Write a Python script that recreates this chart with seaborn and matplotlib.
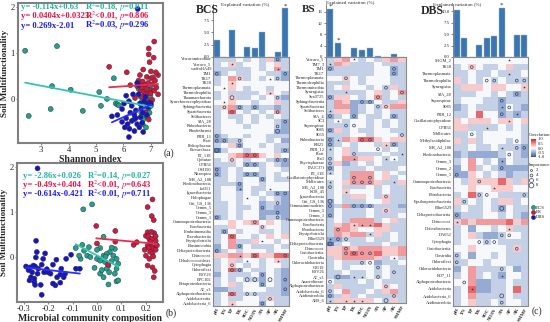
import numpy as np
import pandas as pd
import matplotlib
matplotlib.use('Agg')
import matplotlib.pyplot as plt
import seaborn as sns
from matplotlib.colors import LinearSegmentedColormap
from matplotlib.lines import Line2D

# ---------------- scatter data (panel a: Shannon index, panel b: community composition)
shannon_bcs = [2.42, 2.55, 3.58, 3.40, 3.35, 4.08, 4.52, 5.12, 5.18, 5.40, 5.65, 5.72, 5.78, 5.83,
               6.55, 6.62, 6.68, 6.72, 6.75, 6.80, 6.85, 6.90, 6.92, 6.95, 6.98, 7.00, 6.65, 6.78,
               6.88, 6.70, 6.82, 6.60, 6.90, 6.75, 6.95, 7.02, 6.85, 6.72]
mf_a_bcs = [1.05, -0.37, 1.15, 0.28, -0.22, 0.20, -0.26, 0.15, -0.15, 0.00, 0.45, -0.10, -0.12, -0.14,
            0.22, 0.05, -0.05, 0.18, -0.10, 0.12, 0.00, 0.15, -0.20, -0.05, 0.08, -0.15, -0.30, -0.35,
            -0.40, -0.55, -0.62, 0.32, 0.30, 0.05, -0.30, 0.20, -0.20, -0.45]
shannon_bs = [5.48, 6.12, 7.12, 6.92, 6.92, 7.10, 6.95, 6.72, 6.60, 6.85, 7.00, 7.08, 7.15, 7.26,
              6.55, 6.70, 6.78, 6.90, 7.05, 6.62, 6.75, 6.82, 6.95, 7.12, 7.20, 7.26, 6.68, 6.88,
              6.98, 7.05, 6.95, 6.92, 6.80, 6.50, 6.42, 6.25, 7.18, 6.65, 6.85, 7.00]
mf_a_bs = [0.70, 0.58, 1.25, 1.10, 0.97, 0.90, 0.80, 0.64, 0.52, 0.48, 0.45, 0.47, 0.40, 0.52,
           0.40, 0.38, 0.30, 0.35, 0.32, 0.18, 0.15, 0.10, 0.20, 0.18, 0.25, 0.10, 0.05, -0.05,
           0.12, -0.02, -0.12, -0.45, -0.30, 0.28, 0.02, 0.30, 0.58, 0.25, 0.22, 0.60]
shannon_dbs = [6.52, 6.20, 5.58, 5.78, 5.95, 6.02, 6.10, 6.20, 6.25, 6.30, 6.35, 6.40, 6.45, 6.50,
               6.55, 6.60, 6.65, 6.70, 6.75, 6.80, 6.85, 6.90, 6.95, 7.00, 5.95, 6.05, 6.15, 6.22,
               6.30, 6.38, 6.45, 6.50, 6.58, 6.62, 6.68, 6.72, 6.40, 6.85, 6.10, 6.55]
mf_a_dbs = [1.96, -0.83, -0.38, -0.35, -0.22, -0.10, 0.07, -0.05, -0.30, -0.15, 0.10, -0.35, -0.25, 0.35,
            0.30, -0.10, -0.20, -0.30, -0.05, 0.05, -0.12, -0.18, -0.08, -0.10, -0.50, -0.62, -0.55, -0.65,
            -0.48, -0.45, -0.42, -0.55, -0.62, -0.40, -0.52, -0.72, -0.70, -0.35, -0.42, 0.10]

comp_bcs = [-0.056, -0.020, -0.087, -0.060, -0.033, 0.013, 0.027, -0.053, -0.040, -0.027, 0.000, 0.013, 0.027,
            0.033, 0.047, 0.053, 0.040, 0.073, 0.067, 0.080, 0.087, 0.080, 0.073, 0.040, 0.013, 0.027, 0.047,
            0.080, 0.087, -0.067, -0.073, 0.000, 0.060, -0.010, 0.020, 0.060, 0.035, 0.050]
mf_b_bcs = [1.05, 1.16, 0.19, 0.26, 0.21, 0.19, 0.44, 0.13, 0.02, -0.01, -0.05, -0.09, 0.02,
            -0.12, -0.20, 0.10, 0.06, 0.17, 0.02, -0.05, -0.16, -0.27, -0.38, -0.27, -0.38, -0.46, -0.62,
            -0.55, -0.53, -0.05, 0.02, 0.15, 0.20, -0.25, -0.30, -0.10, 0.00, -0.35]
comp_bs = [0.000, -0.003, 0.075, 0.075, 0.150, 0.163, 0.227, 0.207, 0.224, 0.232, 0.207, 0.234, 0.200,
           0.214, 0.240, 0.220, 0.207, 0.234, 0.227, 0.240, 0.217, 0.200, 0.227, 0.214, 0.207, 0.227,
           0.236, 0.232, 0.045, 0.210, 0.225, 0.245, 0.195, 0.218, 0.230, 0.212, 0.240, 0.222]
mf_b_bs = [0.29, 0.68, 0.57, 0.33, 0.26, 0.32, 1.27, 1.10, 0.90, 0.81, 0.54, 0.52, 0.46,
           0.39, 0.35, 0.28, 0.24, 0.20, 0.17, 0.15, 0.11, 0.02, 0.06, -0.05, -0.20, -0.24,
           -0.32, -0.46, -0.18, 0.45, 0.40, 0.25, 0.15, 0.32, 0.00, 0.20, 0.45, 0.55]
comp_dbs = [-0.249, -0.243, -0.246, -0.212, -0.220, -0.250, -0.290, -0.273, -0.260, -0.253, -0.226, -0.166,
            -0.180, -0.146, -0.126, -0.106, -0.086, -0.190, -0.200, -0.216, -0.243, -0.270, -0.256, -0.276,
            -0.256, -0.230, -0.253, -0.170, -0.150, -0.163, -0.136, -0.130, -0.226, -0.070, -0.280, -0.240,
            -0.205, -0.150, -0.180, -0.265]
mf_b_dbs = [0.35, 1.96, 0.10, 0.07, -0.05, -0.02, -0.22, -0.24, -0.20, -0.22, -0.18, -0.07,
            -0.18, -0.27, -0.05, 0.04, -0.27, -0.38, -0.35, -0.35, -0.38, -0.46, -0.49, -0.53,
            -0.57, -0.63, -0.63, -0.64, -0.58, -0.46, -0.46, -0.38, -0.85, -0.27, -0.30, -0.27,
            -0.28, -0.40, -0.60, -0.35]

groups = ['BCS', 'BS', 'DBS']
fit_a = {'BCS': (-0.114, 0.63), 'BS': (0.0404, 0.0323), 'DBS': (0.269, -2.01)}
fit_b = {'BCS': (-2.86, 0.026), 'BS': (-0.49, 0.404), 'DBS': (-0.614, -0.421)}
eq_a = ['y= -0.114x+0.63', 'y= 0.0404x+0.0323', 'y= 0.269x-2.01']
stat_a = ['R$^2$=0.18, $\\it{p}$=0.011', 'R$^2$<0.01, $\\it{p}$=0.806', 'R$^2$=0.03, $\\it{p}$=0.296']
eq_b = ['y= -2.86x+0.026', 'y= -0.49x+0.404', 'y= -0.614x-0.421']
stat_b = ['R$^2$=0.14, $\\it{p}$=0.027', 'R$^2$<0.01, $\\it{p}$=0.643', 'R$^2$<0.01, $\\it{p}$=0.711']

# ---------------- heatmap data
factors = ['pH', 'TN', 'TP', 'TK', 'SOC', 'NO3N', 'AN', 'AP', 'AK', 'SMMF']
level = {'B': -0.75, 'b': -0.5, 'l': -0.28, '.': -0.04, 'p': 0.24, 'r': 0.45, 'R': 0.68}
imp_size = {'2': 2, '4': 4, '6': 8, '8': 12}

bcs_bars = [3.5, 0, 5.5, 0, 2.0, 1.75, 5.1, 0, 1.0, 9.9]
bs_bars = [17.0, 5.0, 0, 3.2, 2.4, 3.2, 0.3, 0, 1.2, 0]
dbs_bars = [10.2, 4.1, 0, 2.65, 4.2, 4.6, 10.7, 0, 4.8, 4.8]
bcs_sig = [9]
bs_sig = [0, 1]
dbs_sig = [6]

bcs_rows = ['Verrucomicrobiae', 'Verruco_5', 'vadinHA49', 'TM1', 'TK17', 'TK10', 'Thermoplasmata',
            'Thermoleophilia', 'Thaumarchaeota', 'Synechococcophycideae', 'Sphingobacteriia',
            'Spartobacteria', 'Solibacteres', 'SJA_28', 'Rubrobacteria', 'Rhodothermi', 'PRR_11',
            'Plast', 'Pedosphaerae', 'Parvarchaea', 'P2_11E', 'Opitutae', 'OPB56', 'OM190',
            'Nitrospira', 'MB_A2_108', 'Ktedonobacteria', 'koll11', 'Ignavibacteria', 'Holophagae',
            'Gitt_GS_136', 'Gemm_5', 'Gemm_3', 'Gemm_1', 'Gammaproteobacteria', 'Fusobacteria',
            'Fimbriimonadia', 'Flavobacteriia', 'Erysipelotrichi', 'Elusimicrobia',
            'Deltaproteobacteria', 'Deinococci', 'Dehalococcoidetes', 'Cytophagia', 'Chloroflexi',
            'BSV26', 'BPC102', 'Betaproteobacteria', 'AT_s3', 'Alphaproteobacteria',
            'Acidobacteriia', 'Acidobacteria_6']
bcs_corr = ['lll.l.lpbl', 'l.pl..l.pl', 'lllll.l.rl', 'bl.ll..llb', 'l.rpl.l.lb', 'l.p.......',
            '..p.l..l..', 'l.llll.p.l', 'l.pll.l.lb', '..p..l..pl', 'lprblbllbl', 'l.R.l.l.rl',
            'l.ll.l.l.l', 'l..l.l..lb', 'l...l...lb', 'l.......bb', 'bl..l..lll', 'bbll...l.b',
            'l.pb..l.ll', 'Bl..l...lb', '..prRRp.p.', 'l.p.l..lbb', 'lll.bbl.lb', 'bl.l..l..l',
            'bl.lbbl.l.', 'll.l..b.ll', 'lllb..l...', 'l..b.ll...', 'l..l.l.lbb', 'l..l..l.lb',
            'll.l..bllb', 'll.ll.blbb', 'll.l..bbbb', 'bl.l..bllb', '..p.pr.p.l', 'llp...p..l',
            'lb.l..ll.l', 'l.R..l.p.p', 'l.rllp..l.', 'b.rb.lll.l', 'bl.l...l..', 'pprrpRppRR',
            'l.pl..l.pl', 'l.p.l.l..l', 'l.Rb.ll.lb', 'b.lll.b.lb', 'l.l.llb.lb', 'l.pl..b.lb',
            'bbll...llb', 'l.Rllllllb', 'l.ll..lpll', 'l.p...b.ll']
bcs_imp = ['........4.', '..*.......', '........*.', '4........4', '...4...*4.', '..*.......',
           '.*........', '.......*..', '..6.....4.', '.*........', '.4.4.4....', '..4.....4.',
           '..........', '.........4', '........4.', '........6.', '4.........', '44.4......',
           '...4......', '6........4', '....44....', '..4.....44', '....44....', '4.........',
           '4...44....', '......4...', '...4......', '...*...*..', '........44', '....*.....',
           '........4.', '......4...', '........4.', '4.......4.', '.....4....', '......4...',
           '.4........', '..4.......', '......*...', '...4......', '4.........', '...*.4...4',
           '....*...*.', '..4.......', '..44......', '......4...', '....66.6.4', '......4...',
           '.........4', '..4.44....', '.......4..', '..*...4...']

bs_rows = ['Verruco_5', 'TM7_3', 'TM1', 'TK17', 'Thermoplasmata', 'Thermoleophilia', 'Thermomicrobia',
           'Synergistia', 'Sva0725', 'Sphingobacteriia', 'Spartobacteria', 'Solibacteres', 'SJA_4',
           'SC3', 'Saprospirae', 'S085', 'S055', 'Rubrobacteria', 'RB25', 'PRR_12', 'Plast', 'Pla3',
           'Phycisphaerae', 'PAUC37f', 'P2_11E', 'Oscillatoriophycideae', 'Mollicutes', 'MB_A2_108',
           'KD8_45', 'Ignavibacteria', 'Gitt_GS_136', 'Gemmatimonadetes', 'Gemm_5', 'Gemm_1',
           'Gammaproteobacteria', 'Fusobacteria', 'Fibrobacteria', 'Erysipelotrichi', 'Ellin6529',
           'Deltaproteobacteria', 'Deinococci', 'Coriobacteriia', 'Clostridia', 'Chloracidobacteria',
           'C0119', 'BSV26', 'AT_s3', 'Anaerolineae', 'Alphaproteobacteria', 'Acidobacteria_6',
           'Acidimicrobiia', 'ABS_6']
bs_corr = ['lpr.l.lprp', 'lrplll.lll', 'blllll..bl', 'llllll..bl', '..p.l...ll', 'lll.l...ll',
           'l.p..l.lpl', 'lllll.pl.r', 'bpp.l.rl.l', 'lrpbbb.llp', 'lrrbl.lprr', 'lppbl.l.ll',
           'bl.b.ll.bl', 'l.l..l.l.l', 'lll..l.l.l', 'bpl.ll..ll', 'lll..l...l', 'blrpRRp.pp',
           'bl.l..lpbl', 'l.pl...l.l', 'l.pllll.ll', 'l.rrpp.l.l', 'lpbl.l.lll', 'b.lll.lll.',
           'l.lrrr.p.l', '..lrrr.pl.', 'l.prrrpllp', 'l.lll.l.ll', 'l.p...l.ll', 'l.lpp.lpll',
           'b.lll..pll', 'blrbbblllb', 'b.lll.lpll', 'b.lll.lll.', 'l.lrrrl.pl', 'lprprrRpll',
           'lrrp..ppll', 'lrprrlpl.l', 'bblll.ll.l', 'Bl.llll.ll', 'pprprrrppr', 'pprRrrRppr',
           'lprrrrpl.l', 'l.lll.bll.', 'l.l...l.ll', 'll.ll.l.ll', 'lbbll.l.ll', '.lll.l.lll',
           'lpllll.p.l', 'l.rll.lprl', 'blpl.lllll', 'lppppp.lpl']
bs_imp = ['...*......', '*.........', '4.......4.', '........4.', '..4.......', '..........',
          '.......4..', '..*......4', '4.....4...', '....44....', '......44..', '*.........',
          '4..4....4.', '.*........', '..44......', '4.........', '.........4', '4*..44....',
          '4......*4.', '*.....4...', '...4.....*', '4..*...**.', '4.........', '4.........',
          '*.........', '...4.4....', '*..444..*.', '4.........', '..*.......', '.......4..',
          '6.........', '4..444....', '.......4..', '4.........', '..........', '...***....',
          '.4........', '.....*....', '*44.......', '6.........', '..4.......', '..4444....',
          '........*.', '....44....', '......4...', '........4.', '.6.**.4...', '4.........',
          '.......4..', '4.........', '4.......4.', '*.***..6..']

dbs_rows = ['SAGM_2', 'TK10', 'Thermoplasmata', 'Thermoleophilia', 'Synergistia', 'SJA_28',
            'Saprospirae', 'S085', 'PRR_12', 'Oscillatoriophycideae', 'OPB56', 'Mollicutes',
            'Methylacidiphilae', 'MB_A2_108', 'Ktedonobacteria', 'Gemm_3', 'Gemm_2', 'Gemm_1',
            'Gammaproteobacteria', 'Fusobacteria', 'Fibrobacteria', 'Epsilonproteobacteria',
            'Ellin6529', 'Deltaproteobacteria', 'Deinococci', 'Deferribacteres', 'DA052',
            'Cytophagia', 'Coriobacteriia', 'Clostridia', 'Chloroflexi', 'Chloracidobacteria',
            'BD7_11', 'Alphaproteobacteria', 'Acidobacteria', 'Acidobacteria_6', 'Acidimicrobiia']
dbs_corr = ['..........', 'l.p.ll.pll', 'll.ll.lll.', 'pl.l.l.lll', 'lppp.pp..p', 'lll..l.lbl',
            'l...llblll', 'bl.lllb.lb', 'll.R..blbl', 'p.ppp.pp.p', 'ppllll.l.l', 'll.l.....l',
            'plpl...l.l', 'll.ll.lllb', 'blbbbbl.lb', 'l.r.l.b.ll', 'b.rl.lbbbb', 'bbp.l.lbll',
            '.lppppRplp', '..p..ppp..', 'l.Rl..llll', 'pl.l.lppl.', 'l.ll.lb.ll', 'blll..l.lb',
            'prprrrrRpr', 'l.b..l.pll', 'l.plbbl..l', 'l...l.llll', '..p....lpl', 'l.b..l.lll',
            'll..l..lll', 'b.rllll.bl', 'l.rl.lb..l', '..rbbll.ll', 'l.Rbbll.Rl', 'l.rllll.ll',
            'l.pll.l..l']
dbs_imp = ['.......*..', '..4.......', '.......*..', '....44..44', '.........*', '........4.',
           '......4...', '......*4..', '......4.*.', '.......*..', '....*.....', '..4.......',
           '........4.', '......*.44', '.......4..', '......*...', '......4...', '4.........',
           '...4......', '.....*....', '...44....4', '.4........', '......6...', '4.........',
           '*.........', '.......*..', '......44..', '...444....', '........4.', '4.........',
           '4.........', '......4...', '......*...', '.4........', '..*.......', '......6...',
           '......4...']

# ---------------- style
sns.set_style('white')
plt.rcParams['font.family'] = ['Liberation Serif', 'DejaVu Serif']
plt.rcParams['mathtext.fontset'] = 'stix'

pal = {'BCS': '#1fa391', 'BS': '#d6163e', 'DBS': '#1414cc'}
line_col = {'BCS': '#34c4b2', 'BS': '#ea2a52', 'DBS': '#2e2eff'}
txt_col = {'BCS': '#23b3a2', 'BS': '#e8124a', 'DBS': '#1a1aee'}
cmap = LinearSegmentedColormap.from_list('corr', ['#2a56a6', '#ffffff', '#de2226'])
ring = '#33415e'
spine_gray = '#808080'

W, H = 550, 322
fig = plt.figure(figsize=(W / 100, H / 100), dpi=100)


def ax_px(x0, y0, x1, y1):
    return fig.add_axes([x0 / W, 1 - y1 / H, (x1 - x0) / W, (y1 - y0) / H])


def ftxt(x, y, s, **kw):
    fig.text(x / W, 1 - y / H, s, **kw)


def scatter_panel(ax, xs, ys, fits, xlabel):
    frames = []
    for g, x, y in zip(groups, xs, ys):
        frames.append(pd.DataFrame({'x': x, 'y': y, 'group': g}))
    df = pd.concat(frames, ignore_index=True)
    sns.scatterplot(data=df, x='x', y='y', hue='group', palette=pal, s=13,
                    edgecolor='#333333', linewidth=0.35, legend=False, ax=ax, zorder=3)
    for g, x in zip(groups, xs):
        k, b = fits[g]
        xx = np.array([min(x), max(x)])
        ax.plot(xx, k * xx + b, color=line_col[g], lw=1.3, zorder=4)
    for sp in ax.spines.values():
        sp.set_color(spine_gray)
        sp.set_linewidth(1.5)
    ax.tick_params(axis='both', labelsize=6.2, length=1.5, width=0.8, color=spine_gray, pad=1,
                   bottom=True, left=True)
    ax.set_yticks([0, 1, 2])
    ax.set_xlabel(xlabel, fontsize=7, fontweight='bold', labelpad=0.5)
    ax.set_ylabel('Soil Multifunctionality', fontsize=6.5, fontweight='bold', labelpad=0.5)


ax_a = ax_px(18, 3, 163, 143)
scatter_panel(ax_a, [shannon_bcs, shannon_bs, shannon_dbs], [mf_a_bcs, mf_a_bs, mf_a_dbs],
              fit_a, 'Shannon index')
ax_a.set_xlim(2.16, 7.44)
ax_a.set_ylim(-0.96, 2.09)
ax_a.set_xticks([3, 4, 5, 6, 7])

ax_b = ax_px(17, 163, 163, 302)
scatter_panel(ax_b, [comp_bcs, comp_bs, comp_dbs], [mf_b_bcs, mf_b_bs, mf_b_dbs],
              fit_b, 'Microbial community composition')
ax_b.set_xlim(-0.327, 0.27)
ax_b.set_ylim(-1.01, 2.08)
ax_b.set_xticks([-0.3, -0.2, -0.1, 0.0, 0.1, 0.2])
ax_b.set_xticklabels(['-0.3', '-0.2', '-0.1', '0.0', '0.1', '0.2'])

for i, g in enumerate(groups):
    ftxt(21, 7 + i * 9.4, eq_a[i], color=txt_col[g], fontsize=6.2, fontweight='bold', va='center')
    ftxt(85, 7 + i * 9.4, stat_a[i], color=txt_col[g], fontsize=6.2, fontweight='bold', va='center')
    ftxt(23, 176 + i * 9, eq_b[i], color=txt_col[g], fontsize=6.2, fontweight='bold', va='center')
    ftxt(87, 176 + i * 9, stat_b[i], color=txt_col[g], fontsize=6.2, fontweight='bold', va='center')

ftxt(164, 153, '(a)', fontsize=7, va='center')
ftxt(166, 313, '(b)', fontsize=7, va='center')
ftxt(532, 311, '(c)', fontsize=7, va='center')


def heat_block(box, rows, corr, imp, bars, sig, ymax, yticks, ylabels, title, title_xy, ev_xy):
    x0, y_top, x1, y_bot = box
    ax_bar = ax_px(x0, 4, x1, 57)
    ax_h = ax_px(x0, 57, x1, y_bot)

    vals = np.array([[level[c] for c in s.ljust(10, '.')[:10]] for s in corr])
    df = pd.DataFrame(vals, index=rows, columns=factors)
    sns.heatmap(df, ax=ax_h, cmap=cmap, vmin=-1, vmax=1, cbar=False,
                xticklabels=True, yticklabels=True)
    for i, s in enumerate(imp):
        for j, c in enumerate(s[:10]):
            if c == '*':
                ax_h.scatter(j + 0.5, i + 0.5, marker='*', s=4, color='#333333', linewidths=0)
            elif c in imp_size:
                ax_h.scatter(j + 0.5, i + 0.5, s=imp_size[c], facecolors='none',
                             edgecolors=ring, linewidths=0.5)
    for sp in ax_h.spines.values():
        sp.set_visible(True)
        sp.set_color('#8a8a8a')
        sp.set_linewidth(0.8)
    ax_h.tick_params(axis='y', labelsize=3.2, length=0, pad=1)
    ax_h.tick_params(axis='x', labelsize=3.6, length=0, pad=1)
    ax_h.set_xticklabels(factors, rotation=60, ha='right', rotation_mode='anchor', fontweight='bold')
    ax_h.set_yticklabels(rows, rotation=0)
    ax_h.set_xlabel('')
    ax_h.set_ylabel('')

    ax_bar.bar(np.arange(10) + 0.5, bars, width=0.8, color='#3c76b1', edgecolor='#9dbbe0', linewidth=0.3)
    for j in sig:
        ax_bar.text(j + 0.5, bars[j], '*', ha='center', va='bottom', fontsize=5)
    ax_bar.set_xlim(0, 10)
    ax_bar.set_ylim(0, ymax)
    ax_bar.set_xticks([])
    ax_bar.set_yticks(yticks)
    ax_bar.set_yticklabels(ylabels)
    ax_bar.tick_params(axis='y', labelsize=3.4, length=1.5, width=0.4, pad=1, left=True)
    sns.despine(ax=ax_bar, top=True, right=True, bottom=True)
    ax_bar.spines['left'].set_color('#555555')
    ax_bar.spines['left'].set_linewidth(0.5)

    ftxt(title_xy[0], title_xy[1], title, fontsize=title_xy[2], fontweight='bold', va='center')
    ftxt(ev_xy[0], ev_xy[1], 'Explained variation (%)', fontsize=3.6, va='center')
    return ax_h


heat_block((213, 57, 289, 306), bcs_rows, bcs_corr, bcs_imp, bcs_bars, bcs_sig, 10.8,
           [0, 2.5, 5, 7.5], ['0.0', '2.5', '5.0', '7.5'], 'BCS', (196, 10, 8.5), (221, 5))
heat_block((326, 57, 406, 303), bs_rows, bs_corr, bs_imp, bs_bars, bs_sig, 18.8,
           [0, 4, 8, 12, 16], ['0', '4', '8', '12', '16'], 'BS', (302, 10, 8), (326, 3))
ax_d = heat_block((453, 57, 528, 306), dbs_rows, dbs_corr, dbs_imp, dbs_bars, dbs_sig, 11.6,
                  [0, 2.5, 5, 7.5, 10], ['0.0', '2.5', '5.0', '7.5', '10.0'], 'DBS', (421, 11, 8.5),
                  (433, 5))

# colorbar
cax = ax_px(531, 139, 536, 157)
cb = fig.colorbar(ax_d.collections[0], cax=cax, ticks=[1, 0.5, 0, -0.5, -1])
cb.ax.set_yticklabels(['1.0', '0.5', '0.0', '-0.5', '-1.0'])
cb.ax.tick_params(labelsize=3.3, length=0, pad=1)
cb.outline.set_visible(False)
ftxt(529, 135, 'Correlation', fontsize=3.4, va='center')

# importance legend
imp_handles = [Line2D([], [], ls='', marker='o', mfc='none', mec=ring, mew=0.5,
                      ms=np.sqrt(imp_size[k])) for k in ['2', '4', '6', '8']]
fig.legend(imp_handles, ['2', '4', '6', '8'], title='Importance', loc='upper left',
           bbox_to_anchor=(526 / W, 1 - 161 / H), frameon=False, fontsize=3.4,
           title_fontsize=3.4, handletextpad=0.3, labelspacing=0.15, borderpad=0,
           handlelength=1.2, alignment='left')

grp_handles = [Line2D([], [], ls='', marker='o', mfc=pal[g], mec='#333333', mew=0.3, ms=3)
               for g in groups]
fig.legend(grp_handles, groups, loc='upper left', bbox_to_anchor=(529 / W, 1 - 203 / H),
           frameon=False, fontsize=3.4, handletextpad=0.2, labelspacing=0.1, borderpad=0,
           handlelength=0.8)

fig.savefig('out.png', dpi=100)
